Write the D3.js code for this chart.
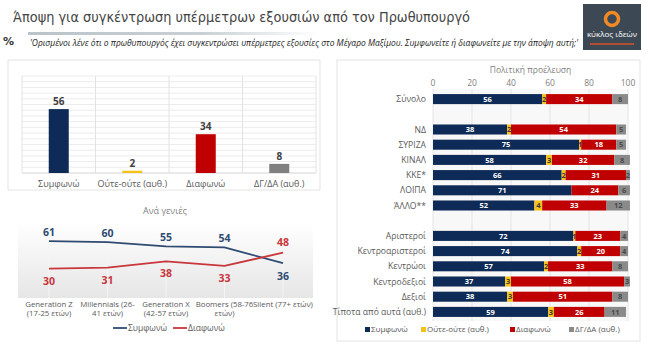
<!DOCTYPE html>
<html>
<head>
<meta charset="utf-8">
<script src="https://cdn.jsdelivr.net/npm/d3@7"></script>
<style>
  body { margin: 0; background: #ffffff; }
  text { font-family: "Open Sans", sans-serif; }
  text.head { font-family: "DejaVu Sans", sans-serif; }
</style>
</head>
<body>
<script>
// συνολικά αποτελέσματα
var barCats = ["Συμφωνώ", "Ούτε-ούτε (αυθ.)", "Διαφωνώ", "ΔΓ/ΔΑ (αυθ.)"];
var barVals = [56, 2, 34, 8];

// ανά γενιές
var genCats = [["Generation Z", "(17-25 ετών)"], ["Millennials (26-", "41 ετών)"], ["Generation X", "(42-57 ετών)"], ["Boomers (58-76", "ετών)"], ["Silent (77+ ετών)"]];
var genAgree = [61, 60, 55, 54, 36];
var genDisagree = [30, 31, 38, 33, 48];

// πολιτική προέλευση ("" = κενή γραμμή)
var groups = ["Σύνολο", "", "ΝΔ", "ΣΥΡΙΖΑ", "ΚΙΝΑΛ", "ΚΚΕ*", "ΛΟΙΠΑ", "ΆΛΛΟ**", "", "Αριστεροί", "Κεντροαριστεροί", "Κεντρώοι", "Κεντροδεξιοί", "Δεξιοί", "Τίποτα από αυτά (αυθ.)"];
var polAgree = [56, 0, 38, 75, 58, 66, 71, 52, 0, 72, 74, 57, 37, 38, 59];
var polNeutral = [2, 0, 2, 1, 3, 2, 0, 4, 0, 1, 2, 2, 3, 3, 3];
var polDisagree = [34, 0, 54, 18, 32, 31, 24, 33, 0, 23, 20, 33, 58, 51, 26];
var polDkna = [8, 0, 5, 5, 8, 2, 6, 12, 0, 4, 4, 8, 3, 8, 11];
var polTicks = [0, 20, 40, 60, 80, 100];

var navy = "#0e2a56", yellow = "#f5c21b", red = "#c00000", grey = "#8a8a8a";
var lineBlue = "#2f4b72", lineRed = "#c8373b";
var textC = "#595959";

var svg = d3.select("body")
    .append("svg")
    .attr("width", 650)
    .attr("height", 349);

var defs = svg.append("defs");
var grad = defs.append("linearGradient")
    .attr("id", "genBg")
    .attr("x1", 0).attr("y1", 0).attr("x2", 0).attr("y2", 1);
grad.append("stop").attr("offset", "0%").attr("stop-color", "#ffffff");
grad.append("stop").attr("offset", "100%").attr("stop-color", "#e6e6e6");
var lineGrad = defs.append("linearGradient")
    .attr("id", "titleLine");
lineGrad.append("stop").attr("offset", "0%").attr("stop-color", "#b9c3c9");
lineGrad.append("stop").attr("offset", "60%").attr("stop-color", "#c9d0d4");
lineGrad.append("stop").attr("offset", "100%").attr("stop-color", "#ffffff");

// ---- τίτλος ----
svg.append("text")
    .attr("class", "head")
    .attr("x", 13)
    .attr("y", 22)
    .attr("font-size", "14.5px")
    .attr("fill", "#444")
    .attr("textLength", 457)
    .attr("lengthAdjust", "spacingAndGlyphs")
    .text("Άποψη για συγκέντρωση υπέρμετρων εξουσιών από τον Πρωθυπουργό");
svg.append("rect")
    .attr("x", 28).attr("y", 32)
    .attr("width", 290).attr("height", 3)
    .attr("fill", "url(#titleLine)");
svg.append("text")
    .attr("class", "head")
    .attr("x", 3)
    .attr("y", 45)
    .attr("font-size", "11px")
    .attr("font-weight", "bold")
    .attr("fill", "#333")
    .text("%");
svg.append("text")
    .attr("x", 30)
    .attr("y", 46)
    .attr("font-size", "8.5px")
    .attr("font-style", "italic")
    .attr("fill", "#222")
    .attr("textLength", 548)
    .attr("lengthAdjust", "spacingAndGlyphs")
    .text("'Ορισμένοι λένε ότι ο πρωθυπουργός έχει συγκεντρώσει υπέρμετρες εξουσίες στο Μέγαρο Μαξίμου. Συμφωνείτε ή διαφωνείτε με την άποψη αυτή;'");

// λογότυπο
var logo = svg.append("g");
logo.append("rect")
    .attr("x", 583).attr("y", 4)
    .attr("width", 58).attr("height", 46)
    .attr("fill", "#3c4854");
logo.append("circle")
    .attr("cx", 612).attr("cy", 19).attr("r", 6.5)
    .attr("fill", "none")
    .attr("stroke", "#f08a24")
    .attr("stroke-width", 3.5);
logo.append("text")
    .attr("x", 612).attr("y", 37)
    .attr("text-anchor", "middle")
    .attr("font-size", "8px")
    .attr("fill", "#ffffff")
    .text("κύκλος ιδεών");
logo.append("line")
    .attr("x1", 590).attr("x2", 634)
    .attr("y1", 44).attr("y2", 44)
    .attr("stroke", "#d9552a")
    .attr("stroke-width", 1.5);

// ---- ραβδόγραμμα συνόλου ----
svg.append("rect")
    .attr("x", 8).attr("y", 60)
    .attr("width", 312).attr("height", 130)
    .attr("fill", "#ffffff")
    .attr("stroke", "#e3e3e3");

var xBar = d3.scaleBand().domain(barCats).range([22, 316]);
var yBar = d3.scaleLinear().domain([0, 85]).range([173, 76]);

svg.append("g").selectAll("line")
    .data(d3.range(0, 86, 5))
    .enter().append("line")
    .attr("x1", 22).attr("x2", 316)
    .attr("y1", d => yBar(d)).attr("y2", d => yBar(d))
    .attr("stroke", d => d === 0 ? "#d4d4d4" : "#ececec")
    .attr("stroke-width", 1);
svg.append("g").selectAll("line")
    .data(barCats.concat(["end"]))
    .enter().append("line")
    .attr("x1", d => d === "end" ? 316 : xBar(d))
    .attr("x2", d => d === "end" ? 316 : xBar(d))
    .attr("y1", 76).attr("y2", 173)
    .attr("stroke", "#e2e2e2");

var barColors = [navy, yellow, red, "#7f7f7f"];
for (let i = 0; i < barCats.length; i++) {
    var cx = xBar(barCats[i]) + xBar.bandwidth() / 2;
    svg.append("rect")
        .attr("x", cx - 10)
        .attr("y", yBar(barVals[i]))
        .attr("width", 20)
        .attr("height", yBar(0) - yBar(barVals[i]))
        .attr("fill", barColors[i]);
    svg.append("text")
        .attr("x", cx)
        .attr("y", yBar(barVals[i]) - 4)
        .attr("text-anchor", "middle")
        .attr("font-size", "10px")
        .attr("font-weight", "bold")
        .attr("fill", "#404040")
        .text(barVals[i]);
    svg.append("text")
        .attr("x", cx)
        .attr("y", 187)
        .attr("text-anchor", "middle")
        .attr("font-size", "9px")
        .attr("fill", textC)
        .text(barCats[i]);
}

// ---- γραμμές ανά γενιά ----
var xGen = d3.scalePoint().domain(d3.range(genCats.length)).range([49, 283]);
var yGen = d3.scaleLinear().domain([0, 85]).range([295, 220]);

svg.append("text")
    .attr("x", 165).attr("y", 214)
    .attr("text-anchor", "middle")
    .attr("font-size", "9px")
    .attr("fill", "#7f7f7f")
    .text("Ανά γενιές");

svg.append("rect")
    .attr("x", 18).attr("y", 222)
    .attr("width", 295).attr("height", 76)
    .attr("fill", "url(#genBg)");

svg.append("g").selectAll("line")
    .data(d3.range(genCats.length))
    .enter().append("line")
    .attr("x1", d => xGen(d)).attr("x2", d => xGen(d))
    .attr("y1", d => yGen(Math.max(genAgree[d], genDisagree[d])))
    .attr("y2", 298)
    .attr("stroke", "#f4f4f4")
    .attr("stroke-width", 1);

var genLine = d3.line()
    .x((d, i) => xGen(i))
    .y(d => yGen(d));

svg.append("path")
    .attr("d", genLine(genAgree))
    .attr("fill", "none")
    .attr("stroke", lineBlue)
    .attr("stroke-width", 1.8);
svg.append("path")
    .attr("d", genLine(genDisagree))
    .attr("fill", "none")
    .attr("stroke", lineRed)
    .attr("stroke-width", 1.8);

for (let i = 0; i < genCats.length; i++) {
    var agreeUp = genAgree[i] >= genDisagree[i];
    svg.append("text")
        .attr("x", xGen(i))
        .attr("y", agreeUp ? yGen(genAgree[i]) - 5 : yGen(genAgree[i]) + 17)
        .attr("text-anchor", "middle")
        .attr("font-size", "10.5px")
        .attr("font-weight", "bold")
        .attr("fill", lineBlue)
        .text(genAgree[i]);
    svg.append("text")
        .attr("x", xGen(i))
        .attr("y", agreeUp ? yGen(genDisagree[i]) + 16 : yGen(genDisagree[i]) - 7)
        .attr("text-anchor", "middle")
        .attr("font-size", "10.5px")
        .attr("font-weight", "bold")
        .attr("fill", lineRed)
        .text(genDisagree[i]);
    var lab = svg.append("text")
        .attr("x", xGen(i))
        .attr("y", 307)
        .attr("text-anchor", "middle")
        .attr("font-size", "7.8px")
        .attr("fill", textC);
    genCats[i].forEach(function (s, k) {
        lab.append("tspan")
            .attr("x", xGen(i))
            .attr("dy", k === 0 ? 0 : 9)
            .text(s);
    });
}

var genLegend = [["Συμφωνώ", lineBlue, 113], ["Διαφωνώ", lineRed, 173]];
genLegend.forEach(function (d) {
    svg.append("line")
        .attr("x1", d[2]).attr("x2", d[2] + 14)
        .attr("y1", 328).attr("y2", 328)
        .attr("stroke", d[1])
        .attr("stroke-width", 1.8);
    svg.append("text")
        .attr("x", d[2] + 15).attr("y", 331)
        .attr("font-size", "8.5px")
        .attr("fill", textC)
        .text(d[0]);
});

// ---- πολιτική προέλευση ----
svg.append("rect")
    .attr("x", 337).attr("y", 60)
    .attr("width", 303).attr("height", 281)
    .attr("fill", "#ffffff")
    .attr("stroke", "#e3e3e3");

var xPol = d3.scaleLinear().domain([0, 100]).range([433, 628]);
var yPol = d3.scaleBand()
    .domain(d3.range(groups.length))
    .range([91.5, 319.5])
    .paddingInner(0.34)
    .paddingOuter(0.17);

svg.append("rect")
    .attr("x", xPol(0)).attr("y", 89)
    .attr("width", xPol(100) - xPol(0)).attr("height", 232)
    .attr("fill", "#f8f8f8");
svg.append("g").selectAll("line")
    .data(polTicks)
    .enter().append("line")
    .attr("x1", d => xPol(d)).attr("x2", d => xPol(d))
    .attr("y1", 89).attr("y2", 321)
    .attr("stroke", "#e4e4e4");
svg.append("g").selectAll("text")
    .data(polTicks)
    .enter().append("text")
    .attr("x", d => xPol(d))
    .attr("y", 86)
    .attr("text-anchor", "middle")
    .attr("font-size", "8.5px")
    .attr("fill", "#7f7f7f")
    .text(d => d);
svg.append("text")
    .attr("x", xPol(50)).attr("y", 73)
    .attr("text-anchor", "middle")
    .attr("font-size", "8.5px")
    .attr("fill", "#7f7f7f")
    .text("Πολιτική προέλευση");

var keys = ["agree", "neutral", "disagree", "dkna"];
var segColors = { agree: navy, neutral: yellow, disagree: red, dkna: grey };
var segText = { agree: "#ffffff", neutral: "#3a3a3a", disagree: "#ffffff", dkna: "#4a4a4a" };
var rows = groups.map(function (g, i) {
    return { i: i, g: g, agree: polAgree[i], neutral: polNeutral[i], disagree: polDisagree[i], dkna: polDkna[i] };
});
var series = d3.stack().keys(keys)(rows);

series.forEach(function (s) {
    var layer = svg.append("g");
    s.forEach(function (d) {
        if (d.data.g === "" || d[1] - d[0] <= 0) return;
        layer.append("rect")
            .attr("x", xPol(d[0]))
            .attr("y", yPol(d.data.i))
            .attr("width", xPol(d[1]) - xPol(d[0]))
            .attr("height", yPol.bandwidth())
            .attr("fill", segColors[s.key]);
        layer.append("text")
            .attr("x", (xPol(d[0]) + xPol(d[1])) / 2)
            .attr("y", yPol(d.data.i) + yPol.bandwidth() / 2 + 2.6)
            .attr("text-anchor", "middle")
            .attr("font-size", "7.5px")
            .attr("font-weight", "bold")
            .attr("fill", segText[s.key])
            .text(d[1] - d[0]);
    });
});

svg.append("g").selectAll("text")
    .data(rows.filter(d => d.g !== ""))
    .enter().append("text")
    .attr("x", 426)
    .attr("y", d => yPol(d.i) + yPol.bandwidth() / 2 + 3)
    .attr("text-anchor", "end")
    .attr("font-size", "8.6px")
    .attr("fill", textC)
    .text(d => d.g);

var polLegend = [["Συμφωνώ", navy, 365], ["Ούτε-ούτε (αυθ.)", yellow, 421], ["Διαφωνώ", red, 510], ["ΔΓ/ΔΑ (αυθ.)", grey, 569]];
polLegend.forEach(function (d) {
    svg.append("rect")
        .attr("x", d[2]).attr("y", 327)
        .attr("width", 5).attr("height", 5)
        .attr("fill", d[1]);
    svg.append("text")
        .attr("x", d[2] + 6).attr("y", 332)
        .attr("font-size", "8px")
        .attr("fill", textC)
        .text(d[0]);
});
</script>
</body>
</html>
